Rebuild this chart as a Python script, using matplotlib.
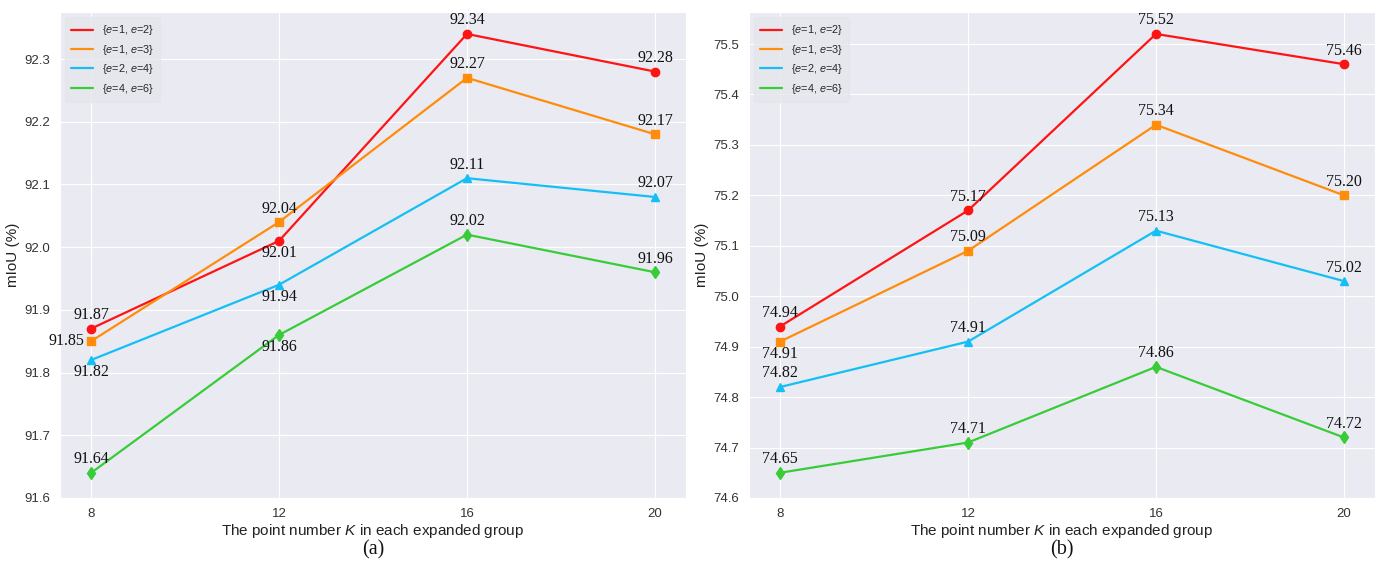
import matplotlib
matplotlib.use("Agg")
import matplotlib.pyplot as plt
from matplotlib.lines import Line2D
import seaborn as sns

sns.set_style("darkgrid")
plt.rcParams["font.family"] = ["Liberation Sans", "DejaVu Sans"]
plt.rcParams["mathtext.fontset"] = "custom"
plt.rcParams["mathtext.rm"] = "Liberation Sans"
plt.rcParams["mathtext.it"] = "Liberation Sans:italic"

k_values = [8, 12, 16, 20]
series_names = ["{$e$=1, $e$=2}", "{$e$=1, $e$=3}", "{$e$=2, $e$=4}", "{$e$=4, $e$=6}"]

# panel (a)
a_red = [91.87, 92.01, 92.34, 92.28]
a_orange = [91.85, 92.04, 92.27, 92.18]
a_blue = [91.82, 91.94, 92.11, 92.08]
a_green = [91.64, 91.86, 92.02, 91.96]
a_red_lbl = ["91.87", "92.01", "92.34", "92.28"]
a_orange_lbl = ["91.85", "92.04", "92.27", "92.17"]
a_blue_lbl = ["91.82", "91.94", "92.11", "92.07"]
a_green_lbl = ["91.64", "91.86", "92.02", "91.96"]

# panel (b)
b_red = [74.94, 75.17, 75.52, 75.46]
b_orange = [74.91, 75.09, 75.34, 75.20]
b_blue = [74.82, 74.91, 75.13, 75.03]
b_green = [74.65, 74.71, 74.86, 74.72]
b_red_lbl = ["74.94", "75.17", "75.52", "75.46"]
b_orange_lbl = ["74.91", "75.09", "75.34", "75.20"]
b_blue_lbl = ["74.82", "74.91", "75.13", "75.02"]
b_green_lbl = ["74.65", "74.71", "74.86", "74.72"]

a_yticks = [91.6, 91.7, 91.8, 91.9, 92.0, 92.1, 92.2, 92.3]
b_yticks = [74.6, 74.7, 74.8, 74.9, 75.0, 75.1, 75.2, 75.3, 75.4, 75.5]

colors = ["#ff1414", "#ff8c0a", "#14bff5", "#38cc38"]
markers = ["o", "s", "^", "d"]

# label placement: 'u' above, 'd' below, 'l' left
a_place = [["u", "d", "u", "u"], ["l", "u", "u", "u"], ["d", "d", "u", "u"], ["u", "d", "u", "u"]]
b_place = [["u", "u", "u", "u"], ["d", "u", "u", "u"], ["u", "u", "u", "u"], ["u", "u", "u", "u"]]

W, H = 1378, 575
fig = plt.figure(figsize=(W / 100, H / 100), dpi=100)
ax_a = fig.add_axes([60 / W, (H - 498) / H, 626 / W, 486 / H])
ax_b = fig.add_axes([749 / W, (H - 498) / H, 626 / W, 486 / H])


def draw(ax, data, labels, places, yticks, ybottom, caption):
    for i, (vals, lbls) in enumerate(zip(data, labels)):
        ax.plot(k_values, vals, color=colors[i], marker=markers[i], markersize=6, lw=1.6)
        for x, y, t, p in zip(k_values, vals, lbls, places[i]):
            if p == "u":
                off, ha, va = (0, 4), "center", "bottom"
            elif p == "d":
                off, ha, va = (0, -3), "center", "top"
            else:
                off, ha, va = (-5, 0), "right", "center"
            ax.annotate(t, (x, y), xytext=off, textcoords="offset points",
                        ha=ha, va=va, fontsize=11.5,
                        family=["Liberation Serif", "DejaVu Serif"], color="#111111")
    ax.set_xlim(7.34, 20.66)
    ax.set_xticks(k_values)
    ax.set_yticks(yticks)
    ax.set_yticklabels([f"{v:.1f}" for v in yticks])
    top = max(max(d) for d in data) + 0.05 * (max(max(d) for d in data) - min(min(d) for d in data))
    ax.set_ylim(ybottom, top)
    ax.tick_params(labelsize=9.5, colors="#333333")
    ax.set_xlabel("The point number $K$ in each expanded group", fontsize=11,
                  color="#222222", labelpad=2)
    ax.set_ylabel("mIoU (%)", fontsize=11, color="#222222", labelpad=3)
    handles = [Line2D([0], [0], color=c, lw=1.6) for c in colors]
    leg = ax.legend(handles, series_names, loc="upper left", fontsize=7.8,
                    frameon=True, handlelength=2.0, borderpad=0.55, labelspacing=0.5,
                    borderaxespad=0.5)
    leg.get_frame().set_facecolor("#e5e5ec")
    leg.get_frame().set_edgecolor("#e5e5ec")
    ax.text(0.5, -0.107, caption, transform=ax.transAxes, ha="center", va="center",
            fontsize=14.5, family=["Liberation Serif", "DejaVu Serif"], color="#111111")


draw(ax_a, [a_red, a_orange, a_blue, a_green],
     [a_red_lbl, a_orange_lbl, a_blue_lbl, a_green_lbl], a_place, a_yticks, 91.6, "(a)")
draw(ax_b, [b_red, b_orange, b_blue, b_green],
     [b_red_lbl, b_orange_lbl, b_blue_lbl, b_green_lbl], b_place, b_yticks, 74.6, "(b)")

fig.savefig("out.png", dpi=100)
